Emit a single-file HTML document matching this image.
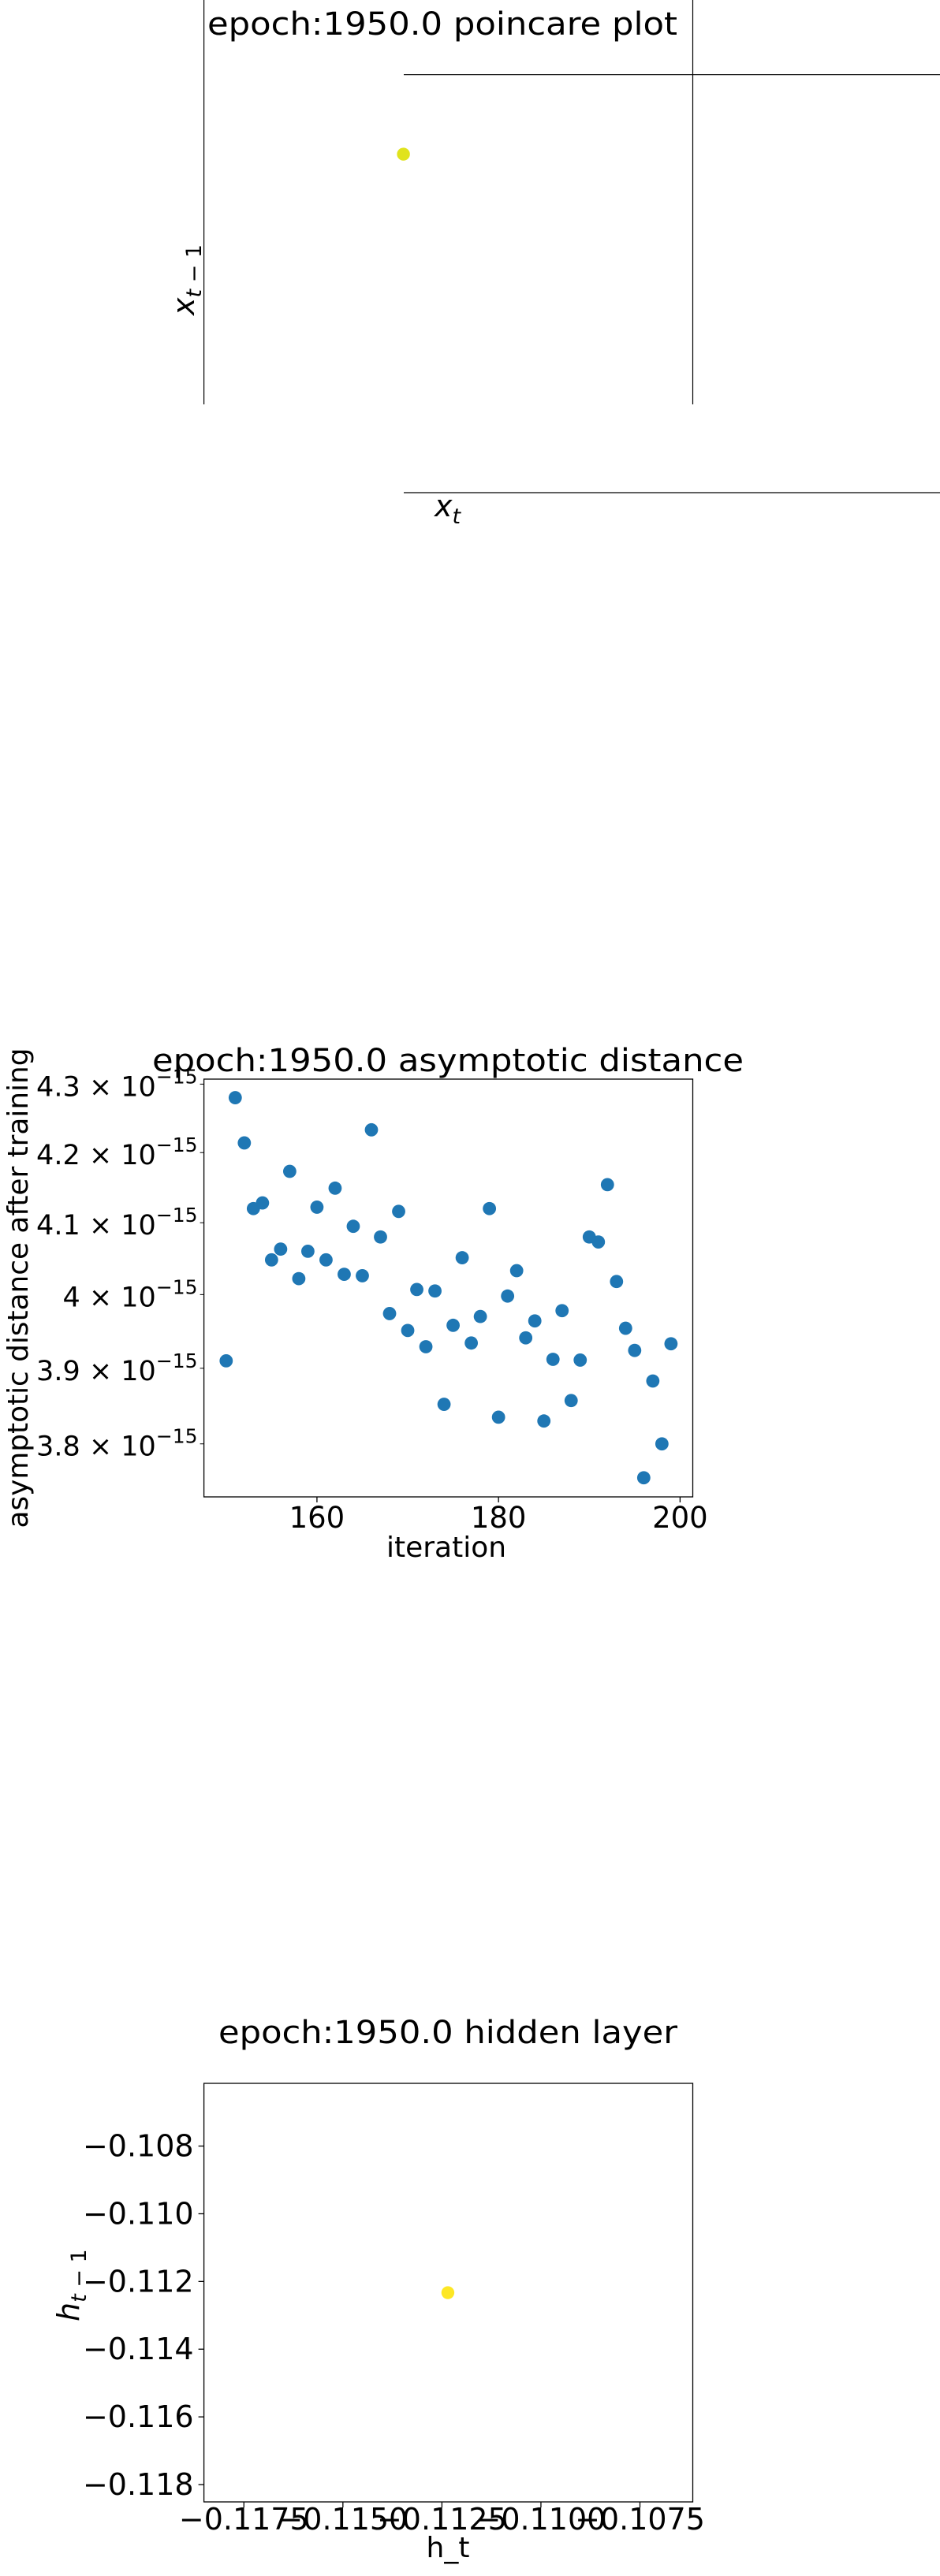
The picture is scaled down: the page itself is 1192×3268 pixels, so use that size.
<!DOCTYPE html>
<html><head><meta charset="utf-8"><style>
html,body{margin:0;padding:0;background:#fff;}
svg{display:block;font-family:"DejaVu Sans","Liberation Sans",sans-serif;}
</style></head><body>
<svg id="fig" width="1192" height="3268" viewBox="0 0 1192 3268" xmlns="http://www.w3.org/2000/svg">
  <rect width="1192" height="3268" fill="#fff"/>
  <g id="poincare">
    <text x="263" y="44" font-size="40" textLength="596" lengthAdjust="spacingAndGlyphs">epoch:1950.0 poincare plot</text>
    <line x1="258.6" y1="0" x2="258.6" y2="513" stroke="#000" stroke-width="1.2"/>
    <line x1="878.5" y1="0" x2="878.5" y2="513" stroke="#000" stroke-width="1.2"/>
    <line x1="512" y1="94.7" x2="1192" y2="94.7" stroke="#000" stroke-width="1.2"/>
    <line x1="512" y1="625" x2="1192" y2="625" stroke="#000" stroke-width="1.2"/>
    <text transform="translate(246,400) rotate(-90)" font-size="38"><tspan font-style="italic">x</tspan><tspan font-size="27" dy="9" font-style="italic">t</tspan><tspan font-size="27"> − 1</tspan></text>
    <text x="551" y="655" font-size="38"><tspan font-style="italic">x</tspan><tspan font-size="27" dy="9" font-style="italic">t</tspan></text>
  </g>
  <g id="asym">
    <text x="193" y="1359" font-size="40" textLength="750" lengthAdjust="spacingAndGlyphs">epoch:1950.0 asymptotic distance</text>
    <text transform="translate(35,1634) rotate(-90)" font-size="36" text-anchor="middle" textLength="609" lengthAdjust="spacingAndGlyphs">asymptotic distance after training</text>
    <text x="566" y="1975" font-size="36" text-anchor="middle">iteration</text>
  </g>
  <g id="hidden">
    <text x="277" y="2592" font-size="40" textLength="582" lengthAdjust="spacingAndGlyphs">epoch:1950.0 hidden layer</text>
    <text transform="translate(100,2945) rotate(-90)" font-size="38"><tspan font-style="italic">h</tspan><tspan font-size="27" dy="9" font-style="italic">t</tspan><tspan font-size="27"> − 1</tspan></text>
    <text x="568" y="3244" font-size="36" text-anchor="middle">h_t</text>
  </g>
</svg>
<script>
const poincareX = [0.0];
const poincareY = [0.0];
const asymIter = [150,151,152,153,154,155,156,157,158,159,160,161,162,163,164,165,166,167,168,169,170,171,172,173,174,175,176,177,178,179,180,181,182,183,184,185,186,187,188,189,190,191,192,193,194,195,196,197,198,199];
const asymDist = [3.910,4.280,4.214,4.120,4.128,4.048,4.063,4.173,4.022,4.060,4.122,4.048,4.149,4.028,4.095,4.026,4.233,4.080,3.974,4.116,3.951,4.007,3.929,4.005,3.852,3.958,4.051,3.934,3.970,4.120,3.835,3.998,4.033,3.941,3.964,3.830,3.912,3.978,3.857,3.911,4.080,4.073,4.154,4.018,3.954,3.924,3.756,3.883,3.800,3.933];
const asymXTicks = [160,180,200];
const asymYTicks = [3.8,3.9,4.0,4.1,4.2,4.3];
const asymYTickLabels = ["3.8","3.9","4","4.1","4.2","4.3"];
const hiddenX = [-0.11235];
const hiddenY = [-0.11233];
const hiddenXTicks = [-0.1175,-0.115,-0.1125,-0.110,-0.1075];
const hiddenXTickLabels = ["−0.1175","−0.1150","−0.1125","−0.1100","−0.1075"];
const hiddenYTicks = [-0.108,-0.110,-0.112,-0.114,-0.116,-0.118];
const hiddenYTickLabels = ["−0.108","−0.110","−0.112","−0.114","−0.116","−0.118"];

const NS = "http://www.w3.org/2000/svg";
function mk(tag, parent, attrs){const e=document.createElementNS(NS,tag);for(const k in attrs)e.setAttribute(k,attrs[k]);parent.appendChild(e);return e;}
function lin(d0,d1,r0,r1){return v=>r0+(v-d0)/(d1-d0)*(r1-r0);}
function logs(d0,d1,r0,r1){const a=Math.log10(d0),b=Math.log10(d1);return v=>r0+(Math.log10(v)-a)/(b-a)*(r1-r0);}

(function(){
  const g=document.getElementById('poincare');
  const sx=lin(0,1,511.6,878.5), sy=lin(0,1,195.6,513);
  poincareX.forEach((v,i)=>{
    const c=mk('circle',g,{cx:sx(v),cy:sy(poincareY[i]),r:8.2,fill:'#e0e31c'});
    
    
  });
})();

(function(){
  const g=document.getElementById('asym');
  const L=258.6,R=878.5,T=1369,B=1899;
  const sx=lin(147.55,201.4,L,R);
  const sy=logs(3.7314,4.3074,B,T);
  asymIter.forEach((it,i)=>{
    const c=mk('circle',g,{cx:sx(it),cy:sy(asymDist[i]),r:8.4,fill:'#1f77b4'});
    
    
  });
  const f=mk('rect',g,{x:L,y:T,width:R-L,height:B-T,fill:'none',stroke:'#000','stroke-width':1.3});
  
  
  asymXTicks.forEach(t=>{
    const x=sx(t);
    const tk=mk('line',g,{x1:x,y1:B,x2:x,y2:B+7,stroke:'#000','stroke-width':1.3});
    
    
    const tl=mk('text',g,{x:x,y:1938,'font-size':37,'text-anchor':'middle'});
    
    
    tl.textContent=String(t);
  });
  asymYTicks.forEach((t,i)=>{
    const y=sy(t);
    const tk=mk('line',g,{x1:L-5,y1:y,x2:L,y2:y,stroke:'#000','stroke-width':1});
    
    
    const tl=mk('text',g,{x:L-8,y:y+15,'font-size':35,'text-anchor':'end'});
    
    
    const a=mk('tspan',tl,{});
    a.textContent=asymYTickLabels[i]+" × 10";
    const s=mk('tspan',tl,{'font-size':25,dy:-16});
    s.textContent="−15";
  });
})();

(function(){
  const g=document.getElementById('hidden');
  const L=258.6,R=878.5,T=2643,B=3174;
  const sx=lin(-0.118509,-0.106166,L,R);
  const sy=lin(-0.118512,-0.106147,B,T);
  hiddenX.forEach((v,i)=>{
    const c=mk('circle',g,{cx:sx(v),cy:sy(hiddenY[i]),r:8.2,fill:'#fde725'});
    
    
  });
  const f=mk('rect',g,{x:L,y:T,width:R-L,height:B-T,fill:'none',stroke:'#000','stroke-width':1.3});
  
  
  hiddenXTicks.forEach((t,i)=>{
    const x=sx(t);
    const tk=mk('line',g,{x1:x,y1:B,x2:x,y2:B+7,stroke:'#000','stroke-width':1.3});
    
    
    const tl=mk('text',g,{x:x,y:3209,'font-size':38,'text-anchor':'middle'});
    
    
    tl.textContent=hiddenXTickLabels[i];
  });
  hiddenYTicks.forEach((t,i)=>{
    const y=sy(t);
    const tk=mk('line',g,{x1:L-7,y1:y,x2:L,y2:y,stroke:'#000','stroke-width':1.3});
    
    
    const tl=mk('text',g,{x:L-13,y:y+13,'font-size':38,'text-anchor':'end'});
    
    
    tl.textContent=hiddenYTickLabels[i];
  });
})();
</script>
</body></html>
